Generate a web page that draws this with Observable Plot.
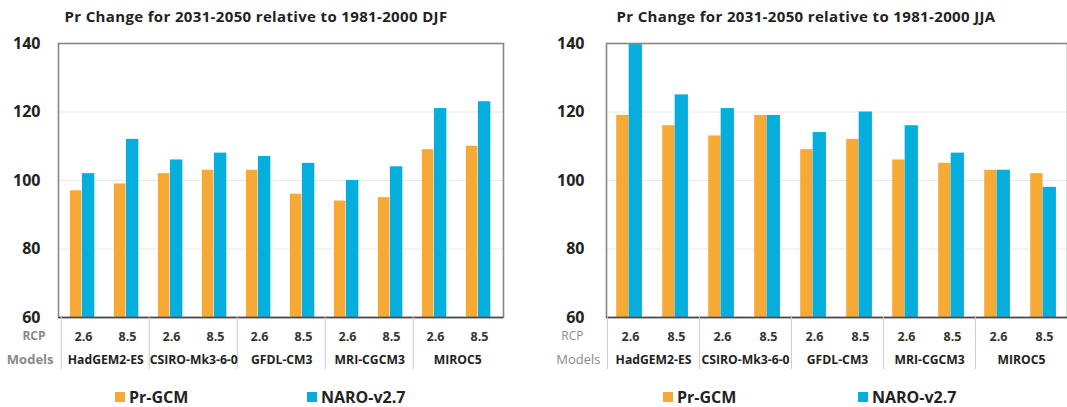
<!DOCTYPE html>
<html>
<head>
<meta charset="utf-8">
<script src="https://cdn.jsdelivr.net/npm/d3@7"></script>
<script src="https://cdn.jsdelivr.net/npm/@observablehq/plot@0.6"></script>
<style>
  html, body { margin: 0; padding: 0; background: #fff; }
  #wrap { position: relative; width: 1067px; height: 407px; overflow: hidden; font-family: "Open Sans", sans-serif; }
  .panel { position: absolute; top: 0; }
  .title { position: absolute; top: 6px; font-size: 15px; letter-spacing: 0.35px; font-weight: 700; color: #222; white-space: nowrap; transform: translateX(-50%); }
  .legend { position: absolute; top: 386px; font-size: 16px; font-weight: 700; color: #222; white-space: nowrap; display: flex; align-items: center; }
  .sw { display: inline-block; width: 10px; height: 10px; margin-right: 4px; }
</style>
</head>
<body>
<div id="wrap"></div>
<script>
const models = ["HadGEM2-ES", "CSIRO-Mk3-6-0", "GFDL-CM3", "MRI-CGCM3", "MIROC5"];
const rcps = ["2.6", "8.5"];
const seriesNames = ["Pr-GCM", "NARO-v2.7"];
const seriesColors = ["#F7A935", "#05AEDD"];
const yTicks = [60, 80, 100, 120, 140];

const djfPrGCM = [97, 99, 102, 103, 103, 96, 94, 95, 109, 110];
const djfNARO  = [102, 112, 106, 108, 107, 105, 100, 104, 121, 123];
const jjaPrGCM = [119, 116, 113, 119, 109, 112, 106, 105, 103, 102];
const jjaNARO  = [140, 125, 121, 119, 114, 120, 116, 108, 103, 98];

const titles = [
  "Pr Change for 2031-2050 relative to 1981-2000 DJF",
  "Pr Change for 2031-2050 relative to 1981-2000 JJA"
];

const keys = models.flatMap(m => rcps.map(r => m + "|" + r));

function buildPanel(prVals, naroVals, cfg) {
  const rows = [];
  keys.forEach((k, i) => {
    rows.push({key: k, series: seriesNames[0], value: prVals[i]});
    rows.push({key: k, series: seriesNames[1], value: naroVals[i]});
  });
  const plotW = cfg.width - cfg.marginLeft - cfg.marginRight;
  const step = plotW / keys.length;
  const a = 0.2 * step, b = 0.47 * step, c = 0.76 * step;
  const yMin = yTicks[0];
  const firstKeys = models.map(m => m + "|" + rcps[0]);

  return Plot.plot({
    width: cfg.width,
    height: 407,
    marginTop: 43,
    marginBottom: 90,
    marginLeft: cfg.marginLeft,
    marginRight: cfg.marginRight,
    style: {fontFamily: "'Open Sans', sans-serif", background: "transparent", overflow: "visible"},
    x: {domain: keys, padding: 0, axis: null},
    y: {domain: [yTicks[0], yTicks[yTicks.length - 1]], axis: null},
    color: {domain: seriesNames, range: seriesColors},
    marks: [
      Plot.gridY([80, 100, 120], {stroke: "#d8d8d8", strokeOpacity: 0.6}),
      Plot.barY(rows.filter(d => d.series === seriesNames[0]), {
        x: "key", y1: () => yMin, y2: "value", fill: seriesColors[0],
        insetLeft: a, insetRight: step - b
      }),
      Plot.barY(rows.filter(d => d.series === seriesNames[1]), {
        x: "key", y1: () => yMin, y2: "value", fill: seriesColors[1],
        insetLeft: b, insetRight: step - c
      }),
      Plot.frame({stroke: "#8c8584", strokeWidth: 1.6}),
      Plot.ruleY([yMin], {stroke: "#4a4a4a", strokeWidth: 1.6}),
      Plot.axisY({ticks: yTicks, tickSize: 0, tickPadding: cfg.yPad, fontSize: 16, fontWeight: "bold", fill: "#222", label: null}),
      Plot.axisX({tickSize: 0, tickPadding: 15, tickFormat: k => k.split("|")[1], fontSize: 12.5, fontWeight: "bold", fill: "#333", label: null}),
      Plot.axisX({ticks: firstKeys, tickSize: 52, text: null, dx: -step / 2, stroke: "#ccc", strokeWidth: 1, label: null}),
      Plot.text(firstKeys, {
        x: d => d, text: d => d.split("|")[0], frameAnchor: "bottom", dx: step / 2, dy: 46,
        fontSize: 12.2, fontWeight: "bold", fill: "#222"
      }),
      Plot.text(["RCP"], {frameAnchor: "bottom-left", textAnchor: "end", dx: cfg.rcpDx, dy: 22, fontSize: cfg.rowFont, fontWeight: cfg.rowWeight, fill: "#8a8a8a"}),
      Plot.text(["Models"], {frameAnchor: "bottom-left", textAnchor: "end", dx: cfg.modelsDx, dy: 46, fontSize: cfg.rowFont + 1, fontWeight: cfg.rowWeight, fill: "#8a8a8a"})
    ]
  });
}

const wrap = document.getElementById("wrap");

const cfgs = [
  {left: 0, width: 533, marginLeft: 58, marginRight: 30, yPad: 18, rcpDx: -13, modelsDx: -5, rowFont: 12, rowWeight: 700, titleX: 256, legend: [115, 307]},
  {left: 533, width: 534, marginLeft: 73, marginRight: 0, yPad: 22, rcpDx: -23, modelsDx: -6, rowFont: 12, rowWeight: 400, titleX: 806, legend: [663, 858]}
];
const data = [[djfPrGCM, djfNARO], [jjaPrGCM, jjaNARO]];

cfgs.forEach((cfg, i) => {
  const div = document.createElement("div");
  div.className = "panel";
  div.style.left = cfg.left + "px";
  div.appendChild(buildPanel(data[i][0], data[i][1], cfg));
  wrap.appendChild(div);

  const t = document.createElement("div");
  t.className = "title";
  t.style.left = cfg.titleX + "px";
  t.textContent = titles[i];
  wrap.appendChild(t);

  seriesNames.forEach((s, j) => {
    const lg = document.createElement("div");
    lg.className = "legend";
    lg.style.left = cfg.legend[j] + "px";
    const sw = document.createElement("span");
    sw.className = "sw";
    sw.style.background = seriesColors[j];
    lg.appendChild(sw);
    lg.appendChild(document.createTextNode(s));
    wrap.appendChild(lg);
  });
});
</script>
</body>
</html>
